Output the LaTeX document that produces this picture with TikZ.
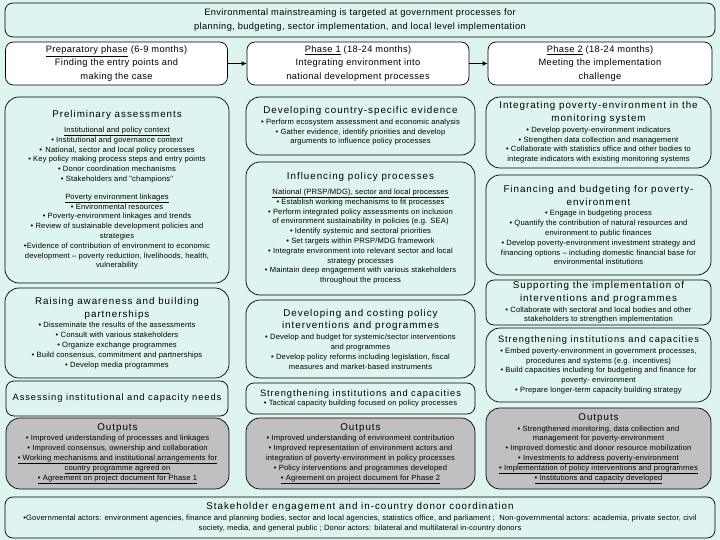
\documentclass[tikz,border=0pt]{standalone}
\usepackage{fontspec}
\setmainfont{Liberation Sans}
\newfontfamily\bodyfam[LetterSpace=2]{Liberation Sans}
\newfontfamily\titlefam[LetterSpace=10]{Liberation Sans}
\newfontfamily\headfam[LetterSpace=4]{Liberation Sans}
\usetikzlibrary{arrows.meta}
\definecolor{bg}{RGB}{222,244,240}
\definecolor{outgray}{RGB}{192,192,192}
\newcommand\bodyf{\bodyfam\fontsize{7.6}{9.8}\selectfont}
\newcommand\tfont{\titlefam\fontsize{9.8}{12}\selectfont}
\newcommand\hfont{\headfam\fontsize{9.3}{13.5}\selectfont}
\newcommand\T[1]{{\tfont #1}}
\newcommand\Ts[1]{{\titlefam\fontsize{9.3}{12}\selectfont #1}}
\tikzset{
  box/.style={draw, line width=0.7pt, rounded corners=14pt, fill=bg, align=center, inner sep=1pt, font=\bodyf},
  smallbox/.style={box, rounded corners=8pt},
  outbox/.style={box, fill=outgray},
  headbox/.style={draw, line width=0.7pt, rounded corners=8pt, fill=white, align=center, inner sep=1pt, font=\hfont, minimum width=222pt, minimum height=43pt},
  arr/.style={line width=1.6pt, -{Latex[length=5pt,width=5pt]}}
}
\begin{document}
\begin{tikzpicture}[x=1pt,y=-1pt]
\fill[bg] (0,0) rectangle (720,540);
\useasboundingbox (0,0) rectangle (720,540);

\node[smallbox, font=\hfont, minimum width=710pt, minimum height=34pt] (title) at (360,20)
 {Environmental mainstreaming is targeted at government processes for\\planning, budgeting, sector implementation, and local level implementation};

\node[headbox] (h1) at (116.5,63.5) {\underline{Preparatory phase} (6-9 months)\\Finding the entry points and\\making the case};
\node[headbox] (h2) at (358,63.5) {\underline{Phase 1} (18-24 months)\\Integrating environment into\\national development processes};
\node[headbox, minimum width=224pt] (h3) at (600,63.5) {\underline{Phase 2} (18-24 months)\\Meeting the implementation\\challenge};
\draw[arr] (h1) -- (h2);
\draw[arr] (h2) -- (h3);

% column 1
\node[box, minimum width=224pt, minimum height=186pt] (prelim) at (117,190)
 {\T{Preliminary assessments}\\[5pt]
  \underline{Institutional and policy context}\\
  • Institutional and governance context\\
  •\, National, sector and local policy processes\\
  • Key policy making process steps and entry points\\
  • Donor coordination mechanisms\\
  • Stakeholders and "champions"\\[8pt]
  \underline{Poverty environment linkages}\\
  • Environmental resources\\
  • Poverty-environment linkages and trends\\
  • Review of sustainable development policies and\\
  strategies\\
  •Evidence of contribution of environment to economic\\
  development – poverty reduction, livelihoods, health,\\
  vulnerability};

\node[box, minimum width=224pt, minimum height=90pt] (raise) at (117,333)
 {\T{Raising awareness and building}\\[3pt]
  \T{partnerships}\\[1pt]
  • Disseminate the results of the assessments\\
  • Consult with various stakeholders\\
  • Organize exchange programmes\\
  • Build consensus, commitment and partnerships\\
  • Develop media programmes};

\node[smallbox, minimum width=222pt, minimum height=35pt] (assess) at (117,398.5)
 {\Ts{Assessing institutional and capacity needs}};

\node[outbox, minimum width=223pt, minimum height=71pt] (out1) at (117.5,453.5)
 {\T{Outputs}\\[1pt]
  • Improved understanding of processes and linkages\\
  • Improved consensus, ownership and collaboration\\
  \underline{• Working mechanisms and institutional arrangements for}\\
  \underline{country programme agreed on}\\
  \underline{• Agreement on project document for Phase 1}};

% column 2
\node[box, minimum width=229pt, minimum height=58pt] (evid) at (360.5,126)
 {\T{Developing country-specific evidence}\\[1pt]
  • Perform ecosystem assessment and economic analysis\\
  • Gather evidence, identify priorities and develop\\
  arguments to influence policy processes};

\node[box, minimum width=229pt, minimum height=133pt] (infl) at (360.5,228.5)
 {\T{Influencing policy processes}\\[5pt]
  \underline{National (PRSP/MDG), sector and local processes}\\
  • Establish working mechanisms to fit processes\\
  • Perform integrated policy assessments on inclusion\\
  of environment sustainability in policies (e.g. SEA)\\
  • Identify systemic and sectoral priorities\\
  • Set targets within PRSP/MDG framework\\
  • Integrate environment into relevant sector and local\\
  strategy processes\\
  • Maintain deep engagement with various stakeholders\\
  throughout the process};

\node[box, minimum width=229pt, minimum height=78pt] (cost) at (360.5,339)
 {\T{Developing and costing policy}\\[3pt]
  \T{interventions and programmes}\\[1pt]
  • Develop and budget for systemic/sector interventions\\
  and programmes\\
  • Develop policy reforms including legislation, fiscal\\
  measures and market-based instruments};

\node[smallbox, minimum width=229pt, minimum height=31pt] (str2) at (360.5,398.5)
 {\Ts{Strengthening institutions and capacities}\\[0pt]
  • Tactical capacity building focused on policy processes};

\node[outbox, minimum width=229pt, minimum height=71pt] (out2) at (360.5,453.5)
 {\T{Outputs}\\[1pt]
  • Improved understanding of environment contribution\\
  • Improved representation of environment actors and\\
  integration of poverty-environment in policy processes\\
  • Policy interventions and programmes developed\\
  \underline{• Agreement on project document for Phase 2}};

% column 3
\node[box, minimum width=225pt, minimum height=71pt] (mon) at (598.5,132.5)
 {\T{Integrating poverty-environment in the}\\[3pt]
  \T{monitoring system}\\[1pt]
  • Develop poverty-environment indicators\\
  • Strengthen data collection and management\\
  • Collaborate with statistics office and other bodies to\\
  integrate indicators with existing monitoring systems};

\node[box, minimum width=225pt, minimum height=100pt] (fin) at (598.5,225)
 {\T{Financing and budgeting for poverty-}\\[3pt]
  \T{environment}\\[1pt]
  • Engage in budgeting process\\
  • Quantify the contribution of natural resources and\\
  environment to public finances\\
  • Develop poverty-environment investment strategy and\\
  financing options – including domestic financial base for\\
  environmental institutions};

\node[smallbox, minimum width=225pt, minimum height=45pt] (supp) at (598.5,302.5)
 {\T{Supporting the implementation of}\\[3pt]
  \T{interventions and programmes}\\[1pt]
  • Collaborate with sectoral and local bodies and other\\
  stakeholders to strengthen implementation};

\node[box, minimum width=225pt, minimum height=74pt] (str3) at (598.5,365)
 {\Ts{Strengthening institutions and capacities}\\[1pt]
  • Embed poverty-environment in government processes,\\
  procedures and systems (e.g. incentives)\\
  • Build capacities including for budgeting and finance for\\
  poverty- environment\\
  • Prepare longer-term capacity building strategy};

\node[outbox, minimum width=225pt, minimum height=81pt] (out3) at (598.5,448.5)
 {\T{Outputs}\\[1pt]
  • Strengthened monitoring, data collection and\\
  management for poverty-environment\\
  • Improved domestic and donor resource mobilization\\
  \underline{• Investments to address poverty-environment}\\
  \underline{• Implementation of policy interventions and programmes}\\
  \underline{• Institutions and capacity developed}};

% bottom
\node[smallbox, minimum width=710pt, minimum height=41pt] (stake) at (360,517.5)
 {\T{Stakeholder engagement and in-country donor coordination}\\[1pt]
  •Governmental actors: environment agencies, finance and planning bodies, sector and local agencies, statistics office, and parliament ;\ \ Non-governmental actors: academia, private sector, civil\\
  society, media, and general public ; Donor actors: bilateral and multilateral in-country donors};
\end{tikzpicture}
\end{document}
